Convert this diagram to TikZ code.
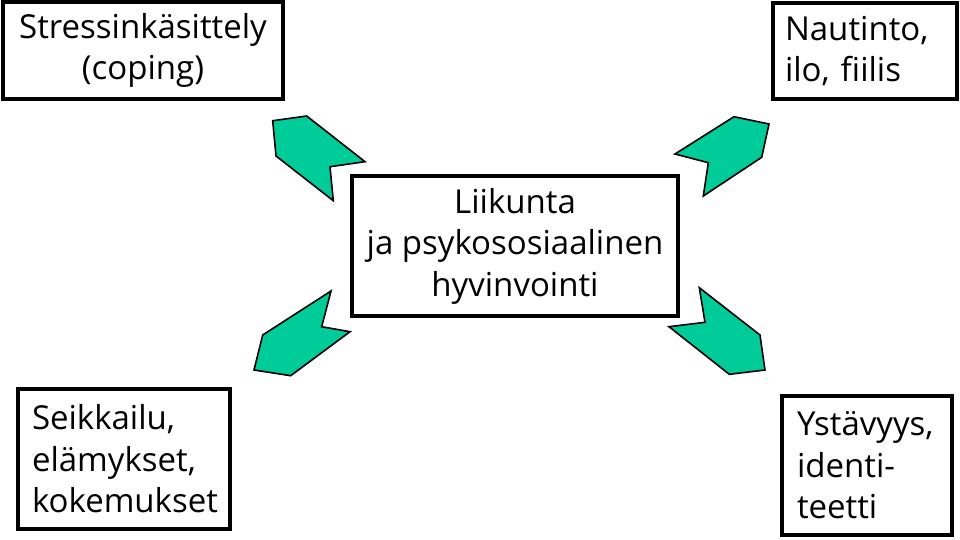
\documentclass[tikz,border=0pt]{standalone}
\usepackage{fontspec}
\setmainfont{Open Sans}
\usepackage{tikz}
\usetikzlibrary{positioning}
\definecolor{arrowGreen}{RGB}{0,204,153}

\begin{document}
\begin{tikzpicture}[x=1pt, y=-1pt,
        bx/.style={draw, line width=3.2pt, inner sep=0pt,
                   font=\fontsize{33}{41.5}\selectfont},
        chev/.style={fill=arrowGreen, draw=black, line width=1.6pt, line join=miter}
      ]
        \useasboundingbox (0,0) rectangle (960,539);
        % Centre box
        \node[bx, minimum width=326pt, minimum height=140pt, align=center] (core) at (515,246)
          {Liikunta\\ja psykososiaalinen\\hyvinvointi};
        % Corner boxes
        \node[bx, minimum width=280pt, minimum height=97pt, align=center] (coping) at (143,50.5)
          {Stressinkäsittely\\(coping)};
        \node[bx, minimum width=184pt, minimum height=96pt, text width=160pt, align=left] (joy) at (865,51)
          {Nautinto,\\ilo, fiilis};
        \node[bx, minimum width=212pt, minimum height=140pt, text width=184pt, align=left] (adv) at (124,459)
          {Seikkailu,\\elämykset,\\kokemukset};
        \node[bx, minimum width=170pt, minimum height=139pt, text width=140pt, align=left] (friend) at (867,465.5)
          {Ystävyys,\\identi-\\teetti};
        % Arrows out of the centre
        \draw[chev] (272.7,120.7) -- (306.7,116) -- (365,161.7) -- (330,166.7)
                    -- (333.3,200.7) -- (276,156) -- cycle;
        \draw[chev] (769,124) -- (761.7,157.3) -- (703.3,196) -- (708.3,162.7)
                    -- (675,154) -- (734,116.7) -- cycle;
        \draw[chev] (254,370) -- (262.7,335) -- (331,291) -- (321.7,326.7)
                    -- (350,331.7) -- (290.7,375.7) -- cycle;
        \draw[chev] (765,370) -- (729.3,374.3) -- (669,326.7) -- (705,322.3)
                    -- (699.3,287.7) -- (760,335) -- cycle;
      \end{tikzpicture}
\end{document}
